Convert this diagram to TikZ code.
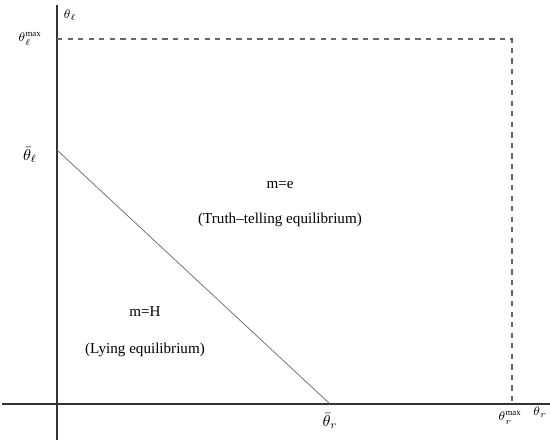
\documentclass[tikz,border=0pt]{standalone}
\usepackage{amsmath}
\usepackage{fontspec}
\setmainfont{Liberation Serif}
\usetikzlibrary{positioning}

\begin{document}
\begin{tikzpicture}[axis/.style={thick, black!80}, bound/.style={dashed, thick, gray!80!black}, frontier/.style={gray!80!black}, lbl/.style={font=\fontsize{8.6}{10}\selectfont}, tick/.style={font=\fontsize{7}{8}\selectfont, inner sep=0pt}]
\useasboundingbox (0,0) rectangle (11,8.86);
\coordinate (O) at (1.14,0.78);
\coordinate (Xl) at (0.04,0.78); \coordinate (Xr) at (11,0.78);
\coordinate (Yb) at (1.14,0.06); \coordinate (Yt) at (1.14,8.76);
\coordinate (Tl) at (1.14,8.08); \coordinate (Tr) at (10.24,8.08); \coordinate (Br) at (10.24,0.78);
\coordinate (Lbar) at (1.14,5.86); \coordinate (Rbar) at (6.6,0.78);
\draw[axis] (Xl)--(Xr);
\draw[axis] (Yb)--(Yt);
\draw[bound] (Tl)--(Tr)--(Br);
\fill[black!70] (Tr) circle (0.6pt);
\draw[frontier] (Lbar)--(Rbar);
\node[tick] (ylab) at (1.4,8.56) {$\theta_\ell$};
\node[tick] (ymax) at (0.6,8.08) {$\theta_\ell^{\max}$};
\node[font=\small, inner sep=0pt] (ybar) at (0.6,5.76) {$\bar\theta_\ell$};
\node[font=\small, inner sep=0pt] (xbar) at (6.6,0.44) {$\bar\theta_r$};
\node[tick] (xmax) at (10.2,0.5) {$\theta_r^{\max}$};
\node[tick] (xlab) at (10.8,0.62) {$\theta_r$};
\node[lbl] (me) at (5.6,5.16) {m=e};
\node[lbl] (truth) at (5.6,4.46) {(Truth{\textendash}telling equilibrium)};
\node[lbl] (mh) at (2.9,2.62) {m=H};
\node[lbl] (lying) at (2.9,1.86) {(Lying equilibrium)};
\end{tikzpicture}
\end{document}
